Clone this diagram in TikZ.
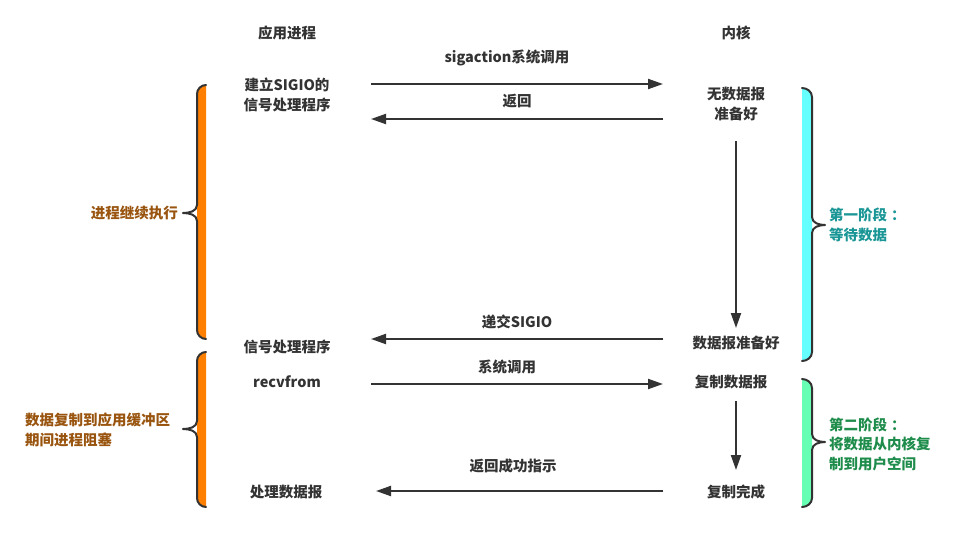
\documentclass[tikz,border=0pt]{standalone}
\usepackage{fontspec}
\setmainfont{Noto Sans CJK SC}
\usetikzlibrary{arrows.meta}
\definecolor{ink}{HTML}{333333}
\definecolor{bracecol}{HTML}{333333}
\definecolor{orangefill}{HTML}{FF8000}
\definecolor{cyanfill}{HTML}{66FFFF}
\definecolor{mintfill}{HTML}{66FFB3}
\definecolor{browntext}{HTML}{99550F}
\definecolor{tealtext}{HTML}{1A9696}
\definecolor{greentext}{HTML}{1E8C4B}
% left-opening brace with a coloured band on its inner side
% #1 inner x, #2 line x, #3 tip x, #4 top y, #5 tip y, #6 bottom y, #7 fill
\newcommand{\drawLeftBrace}[7]{%
  \fill[#7] (#1,#4) to[out=180,in=90] (#2,#4+9) -- (#2,#6-9)
    to[out=-90,in=180] (#1,#6) -- cycle;
  \draw[bracestroke] (#1,#4) to[out=180,in=90] (#2,#4+9) -- (#2,#5-8)
    to[out=-90,in=0] (#3,#5) to[out=0,in=90] (#2,#5+8) -- (#2,#6-9)
    to[out=-90,in=180] (#1,#6);}
\newcommand{\drawRightBrace}[7]{%
  \fill[#7] (#1,#4) to[out=0,in=90] (#2,#4+9) -- (#2,#6-9)
    to[out=-90,in=0] (#1,#6) -- cycle;
  \draw[bracestroke] (#1,#4) to[out=0,in=90] (#2,#4+9) -- (#2,#5-8)
    to[out=-90,in=180] (#3,#5) to[out=180,in=90] (#2,#5+8) -- (#2,#6-9)
    to[out=-90,in=0] (#1,#6);}
\begin{document}
\begin{tikzpicture}[x=1pt,y=-1pt,
  txt/.style={inner sep=0pt,text=ink,font=\fontsize{14.5}{19.5}\selectfont\bfseries,align=center},
  lbl/.style={txt},
  side/.style={inner sep=0pt,font=\fontsize{14.5}{19.5}\selectfont\bfseries,align=left},
  msg/.style={draw=ink,line width=2pt,-{Triangle[length=15pt,width=10pt]}},
  bracestroke/.style={draw=bracecol,line width=2pt,line cap=round,line join=round}]
\useasboundingbox[fill=white] (0,0) rectangle (959,557);

% braces
\drawLeftBrace{206}{197}{183}{85}{213}{339}{orangefill}
\drawLeftBrace{206}{197}{183}{352}{429}{507}{orangefill}
\drawRightBrace{802}{812}{825}{88}{225}{361}{cyanfill}
\drawRightBrace{802}{812}{825}{379}{442}{507}{mintfill}

% column headings
\node[txt] (app) at (287,33) {应用进程};
\node[txt] (kern) at (736,33) {内核};

% application side
\node[txt] (setup) at (287,95) {建立SIGIO的\\信号处理程序};
\node[txt] (handler) at (287,347) {信号处理程序};
\node[txt] (recv) at (287,382) {recvfrom};
\node[txt] (proc) at (286,492) {处理数据报};

% kernel side
\node[txt] (nodata) at (736,104) {无数据报\\准备好};
\node[txt] (ready) at (736,343) {数据报准备好};
\node[txt] (copy) at (731,382) {复制数据报};
\node[txt] (done) at (736,492) {复制完成};

% message labels
\node[lbl] (m1) at (507,58) {sigaction系统调用};
\node[lbl] (m2) at (517,101) {返回};
\node[lbl] (m3) at (517,322) {递交SIGIO};
\node[lbl] (m4) at (507,367) {系统调用};
\node[lbl] (m5) at (513,466) {返回成功指示};

% phase notes
\node[side,text=browntext,anchor=east] (cont) at (178,213) {进程继续执行};
\node[side,text=browntext,anchor=west] (block) at (25,430) {数据复制到应用缓冲区\\期间进程阻塞};
\node[side,text=tealtext,anchor=west] (ph1) at (829,225) {第一阶段\hspace{4pt}：\\等待数据};
\node[side,text=greentext,anchor=west] (ph2) at (829,444) {第二阶段\hspace{4pt}：\\将数据从内核复\\制到用户空间};

% arrow end points
\coordinate (a1s) at (371,84);  \coordinate (a1e) at (663,84);
\coordinate (a2s) at (663,119); \coordinate (a2e) at (371,119);
\coordinate (a3s) at (736,141); \coordinate (a3e) at (736,328);
\coordinate (a4s) at (663,339); \coordinate (a4e) at (371,339);
\coordinate (a5s) at (371,384); \coordinate (a5e) at (663,384);
\coordinate (a6s) at (736,401); \coordinate (a6e) at (736,470);
\coordinate (a7s) at (663,491); \coordinate (a7e) at (376,491);

\draw[msg] (a1s) -- (a1e);
\draw[msg] (a2s) -- (a2e);
\draw[msg] (a3s) -- (a3e);
\draw[msg] (a4s) -- (a4e);
\draw[msg] (a5s) -- (a5e);
\draw[msg] (a6s) -- (a6e);
\draw[msg] (a7s) -- (a7e);
\end{tikzpicture}
\end{document}
